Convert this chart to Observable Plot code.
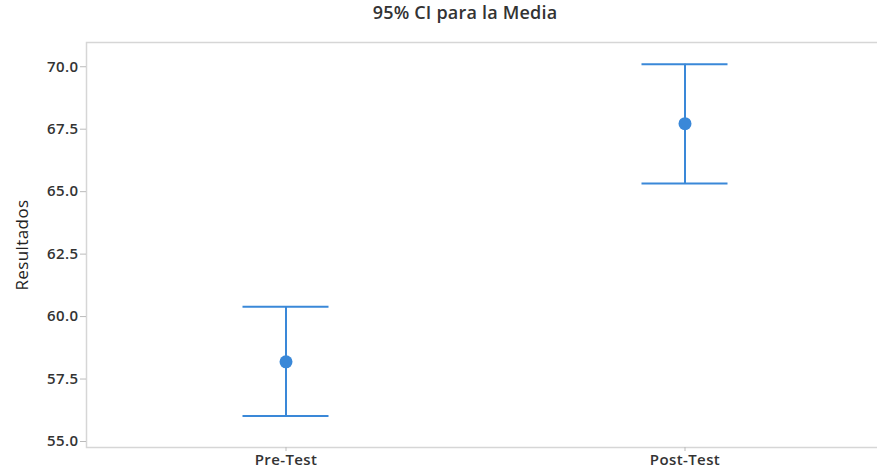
<!DOCTYPE html>
<html>
<head>
<meta charset="utf-8">
<script src="https://cdn.jsdelivr.net/npm/d3@7"></script>
<script src="https://cdn.jsdelivr.net/npm/@observablehq/plot@0.6"></script>
<style>
  body { margin: 0; background: #fff; }
  #title {
    box-sizing: border-box;
    width: 877px; height: 30px; line-height: 33px;
    padding-left: 53px;
    text-align: center;
    font: 600 18px "Open Sans", sans-serif;
    letter-spacing: 0.2px;
    color: #333;
  }
  #chart svg text { letter-spacing: 0.4px; }
</style>
</head>
<body>
<div id="title">95% CI para la Media</div>
<div id="chart"></div>
<script>
// 95% confidence intervals for the mean, per test group
const groups = ["Pre-Test", "Post-Test"];
const means  = [58.19, 67.72];
const lower  = [56.02, 65.33];
const upper  = [60.39, 70.10];
const yTicks = [55, 57.5, 60, 62.5, 65, 67.5, 70];

const rows = groups.map((g, i) => ({group: g, mean: means[i], lo: lower[i], hi: upper[i]}));
const blue = "#3a88d8";
const capInset = 156.5;

const chart = Plot.plot({
  width: 877,
  height: 442,
  marginTop: 12,
  marginBottom: 25,
  marginLeft: 86,
  marginRight: -7,
  style: {fontFamily: "'Open Sans', sans-serif", fontSize: "15px", fontWeight: 600, color: "#333", overflow: "hidden"},
  x: {type: "band", domain: groups, padding: 0, label: null},
  y: {domain: [54.76, 70.97], label: null},
  marks: [
    Plot.frame({stroke: "#d6d6d6", strokeWidth: 1.5}),
    Plot.axisY({ticks: yTicks, tickFormat: d3.format(".1f"), tickSize: 6, tickPadding: 2, stroke: "#bbb", label: null}),
    Plot.axisX({tickSize: 4, tickPadding: 3, stroke: "#bbb", label: null}),
    Plot.text(["Resultados"], {frameAnchor: "left", textAnchor: "middle", rotate: -90, dx: -64, fontSize: 17, fontWeight: 400, fill: "#222"}),
    Plot.ruleX(rows, {x: "group", y1: "lo", y2: "hi", stroke: blue, strokeWidth: 2}),
    Plot.tickY(rows, {x: "group", y: "lo", stroke: blue, strokeWidth: 2, insetLeft: capInset, insetRight: capInset}),
    Plot.tickY(rows, {x: "group", y: "hi", stroke: blue, strokeWidth: 2, insetLeft: capInset, insetRight: capInset}),
    Plot.dot(rows, {x: "group", y: "mean", r: 6.5, fill: blue, stroke: null})
  ]
});
document.getElementById("chart").appendChild(chart);
</script>
</body>
</html>
